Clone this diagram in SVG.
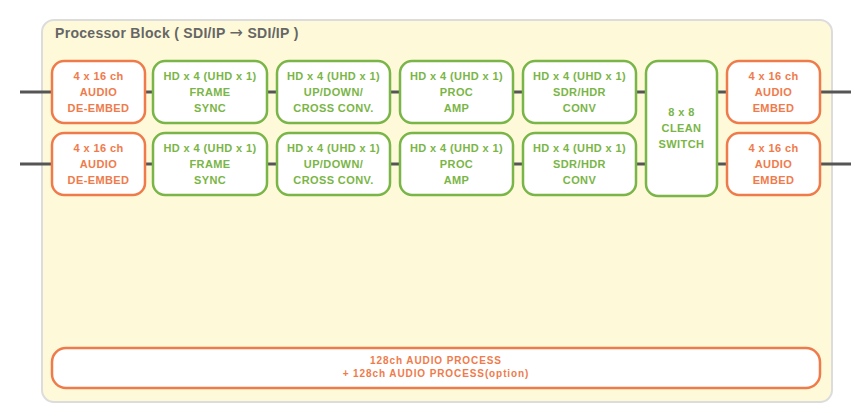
<svg xmlns="http://www.w3.org/2000/svg" width="860" height="411" viewBox="0 0 860 411">
<style>
.bg{fill:#fefad9;stroke:#dcdcdc;stroke-width:2}
.o{fill:#fff;stroke:#ef7b4b;stroke-width:2.5}
.g{fill:#fff;stroke:#7ab547;stroke-width:2.5}
.t{font-family:"Liberation Sans",Arial,sans-serif;font-weight:bold;font-size:11px;letter-spacing:0.4px;text-anchor:middle}
.to{fill:#ef7b4b}
.tg{fill:#7ab547}
.c{stroke:#555;stroke-width:3;fill:none}
.title{font-family:"Liberation Sans",Arial,sans-serif;font-weight:bold;font-size:14px;letter-spacing:0.3px;fill:#666}
.arr{font-family:"DejaVu Sans",sans-serif;font-weight:normal;font-size:16px}
</style>
<rect class="bg" x="42" y="20" width="790" height="382" rx="12"/>
<text class="title" x="55" y="38">Processor Block ( SDI/IP <tspan class="arr">→</tspan> SDI/IP )</text>
<g id="connectors">
<path class="c" d="M20 92H52M145 92H153M267 92H277M390 92H400M513 92H523M636 92H646M717 92H727M820 92H851"/>
<path class="c" d="M20 164H52M145 164H153M267 164H277M390 164H400M513 164H523M636 164H646M717 164H727M820 164H851"/>
</g>
<g id="deembed1"><rect class="o" x="52" y="61" width="93" height="62" rx="12"/><text class="t to" x="98.5" y="80">4 x 16 ch</text><text class="t to" x="98.5" y="96">AUDIO</text><text class="t to" x="98.5" y="111.5">DE-EMBED</text></g>
<g id="framesync1"><rect class="g" x="153" y="61" width="114" height="62" rx="12"/><text class="t tg" x="210" y="80">HD x 4 (UHD x 1)</text><text class="t tg" x="210" y="96">FRAME</text><text class="t tg" x="210" y="111.5">SYNC</text></g>
<g id="conv1"><rect class="g" x="277" y="61" width="113" height="62" rx="12"/><text class="t tg" x="333.5" y="80">HD x 4 (UHD x 1)</text><text class="t tg" x="333.5" y="96">UP/DOWN/</text><text class="t tg" x="333.5" y="111.5">CROSS CONV.</text></g>
<g id="procamp1"><rect class="g" x="400" y="61" width="113" height="62" rx="12"/><text class="t tg" x="456.5" y="80">HD x 4 (UHD x 1)</text><text class="t tg" x="456.5" y="96">PROC</text><text class="t tg" x="456.5" y="111.5">AMP</text></g>
<g id="sdrhdr1"><rect class="g" x="523" y="61" width="113" height="62" rx="12"/><text class="t tg" x="579.5" y="80">HD x 4 (UHD x 1)</text><text class="t tg" x="579.5" y="96">SDR/HDR</text><text class="t tg" x="579.5" y="111.5">CONV</text></g>
<g id="embed1"><rect class="o" x="727" y="61" width="93" height="62" rx="12"/><text class="t to" x="773.5" y="80">4 x 16 ch</text><text class="t to" x="773.5" y="96">AUDIO</text><text class="t to" x="773.5" y="111.5">EMBED</text></g>
<g id="deembed2"><rect class="o" x="52" y="133" width="93" height="62" rx="12"/><text class="t to" x="98.5" y="152">4 x 16 ch</text><text class="t to" x="98.5" y="168">AUDIO</text><text class="t to" x="98.5" y="183.5">DE-EMBED</text></g>
<g id="framesync2"><rect class="g" x="153" y="133" width="114" height="62" rx="12"/><text class="t tg" x="210" y="152">HD x 4 (UHD x 1)</text><text class="t tg" x="210" y="168">FRAME</text><text class="t tg" x="210" y="183.5">SYNC</text></g>
<g id="conv2"><rect class="g" x="277" y="133" width="113" height="62" rx="12"/><text class="t tg" x="333.5" y="152">HD x 4 (UHD x 1)</text><text class="t tg" x="333.5" y="168">UP/DOWN/</text><text class="t tg" x="333.5" y="183.5">CROSS CONV.</text></g>
<g id="procamp2"><rect class="g" x="400" y="133" width="113" height="62" rx="12"/><text class="t tg" x="456.5" y="152">HD x 4 (UHD x 1)</text><text class="t tg" x="456.5" y="168">PROC</text><text class="t tg" x="456.5" y="183.5">AMP</text></g>
<g id="sdrhdr2"><rect class="g" x="523" y="133" width="113" height="62" rx="12"/><text class="t tg" x="579.5" y="152">HD x 4 (UHD x 1)</text><text class="t tg" x="579.5" y="168">SDR/HDR</text><text class="t tg" x="579.5" y="183.5">CONV</text></g>
<g id="embed2"><rect class="o" x="727" y="133" width="93" height="62" rx="12"/><text class="t to" x="773.5" y="152">4 x 16 ch</text><text class="t to" x="773.5" y="168">AUDIO</text><text class="t to" x="773.5" y="183.5">EMBED</text></g>
<g id="cleanswitch"><rect class="g" x="646" y="61" width="71" height="135" rx="12"/><text class="t tg" x="681.5" y="116">8 x 8</text><text class="t tg" x="681.5" y="132">CLEAN</text><text class="t tg" x="681.5" y="148">SWITCH</text></g>
<g id="audioprocess"><rect class="o" x="52" y="348" width="768" height="40" rx="14"/><text class="t to" x="436" y="364" style="font-size:10px;letter-spacing:0.9px">128ch AUDIO PROCESS</text><text class="t to" x="436" y="377" style="font-size:10px;letter-spacing:0.9px">+ 128ch AUDIO PROCESS(option)</text></g>
</svg>
